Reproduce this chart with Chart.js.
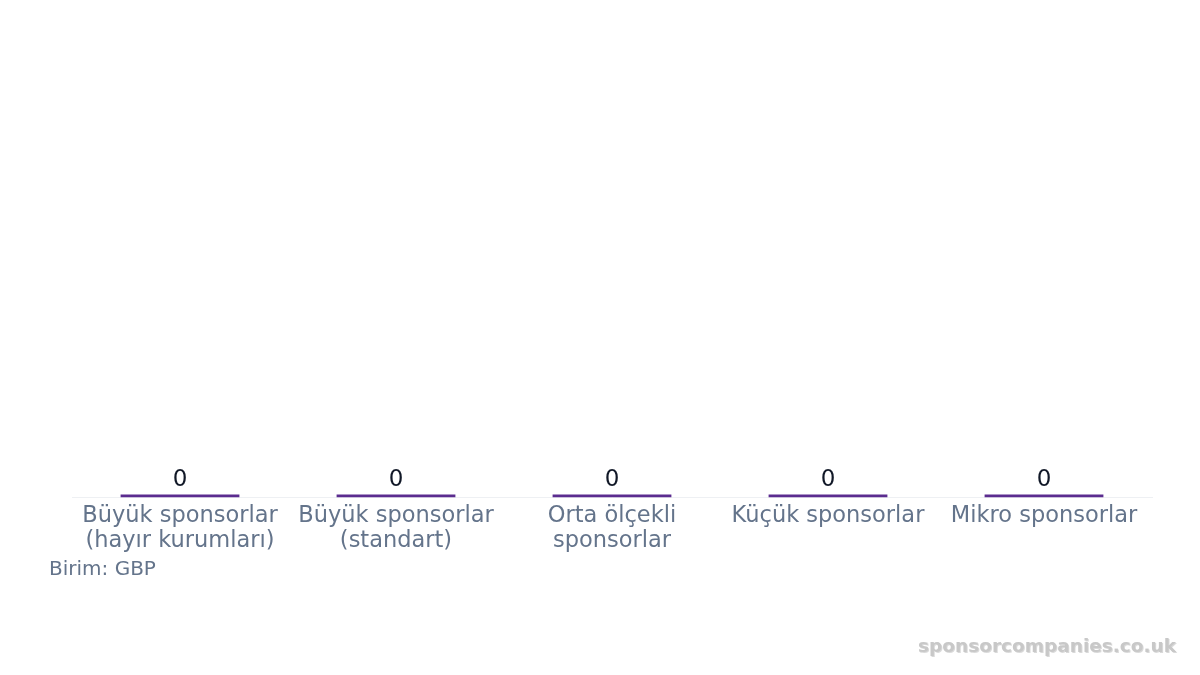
<!DOCTYPE html>
<html>
<head>
<meta charset="utf-8">
<script src="https://cdn.jsdelivr.net/npm/chart.js@4/dist/chart.umd.min.js"></script>
<style>
  html, body { margin: 0; padding: 0; background: #fff; }
  #wrap { width: 1200px; height: 675px; }
</style>
</head>
<body>
<div id="wrap"><canvas id="canvas" width="1200" height="675"></canvas></div>
<script>
  // chart data
  var categories = [
    ['Büyük sponsorlar', '(hayır kurumları)'],
    ['Büyük sponsorlar', '(standart)'],
    ['Orta ölçekli', 'sponsorlar'],
    'Küçük sponsorlar',
    'Mikro sponsorlar'
  ];
  var sponsorCounts = [0, 0, 0, 0, 0];
  var unitLabel = 'Birim: GBP';
  var watermark = 'sponsorcompanies.co.uk';

  var FONT = 'DejaVu Sans';

  // draws the value above each bar
  var valueLabels = {
    id: 'valueLabels',
    afterDatasetsDraw: function(chart) {
      var ctx = chart.ctx;
      var meta = chart.getDatasetMeta(0);
      ctx.save();
      ctx.font = '23px "' + FONT + '"';
      ctx.fillStyle = '#111827';
      ctx.textAlign = 'center';
      ctx.textBaseline = 'alphabetic';
      meta.data.forEach(function(bar, i) {
        var top = Math.min(bar.y, bar.base);
        ctx.fillText(String(sponsorCounts[i]), bar.x, top - 9);
      });
      ctx.restore();
    }
  };

  // unit note and watermark
  var footerText = {
    id: 'footerText',
    afterDraw: function(chart) {
      var ctx = chart.ctx;
      ctx.save();
      ctx.font = '20px "' + FONT + '"';
      ctx.fillStyle = '#64748b';
      ctx.textAlign = 'left';
      ctx.textBaseline = 'alphabetic';
      ctx.fillText(unitLabel, 49, 575);

      ctx.font = 'bold 18.5px "' + FONT + '"';
      ctx.textAlign = 'right';
      ctx.shadowColor = 'rgba(0,0,0,0.15)';
      ctx.shadowOffsetX = 1;
      ctx.shadowOffsetY = 1;
      ctx.fillStyle = '#c8c8c8';
      ctx.fillText(watermark, 1176, 652);
      ctx.restore();
    }
  };

  var ctx = document.getElementById('canvas').getContext('2d');
  new Chart(ctx, {
    type: 'bar',
    data: {
      labels: categories,
      datasets: [{
        data: sponsorCounts,
        backgroundColor: '#5b2c8f',
        borderWidth: 0,
        minBarLength: 3,
        barPercentage: 0.55,
        categoryPercentage: 1
      }]
    },
    options: {
      responsive: false,
      animation: false,
      layout: { padding: { left: 72, right: 48, top: 20, bottom: 115 } },
      plugins: {
        legend: { display: false },
        tooltip: { enabled: false }
      },
      scales: {
        x: {
          grid: { display: false, drawTicks: false },
          border: { display: true, color: '#eef0f3', width: 1 },
          ticks: {
            color: '#64748b',
            font: { family: FONT, size: 22.5, lineHeight: 1.12 },
            padding: 6,
            maxRotation: 0,
            autoSkip: false
          }
        },
        y: {
          display: false,
          beginAtZero: true,
          min: 0,
          max: 1
        }
      }
    },
    plugins: [valueLabels, footerText]
  });
</script>
</body>
</html>
